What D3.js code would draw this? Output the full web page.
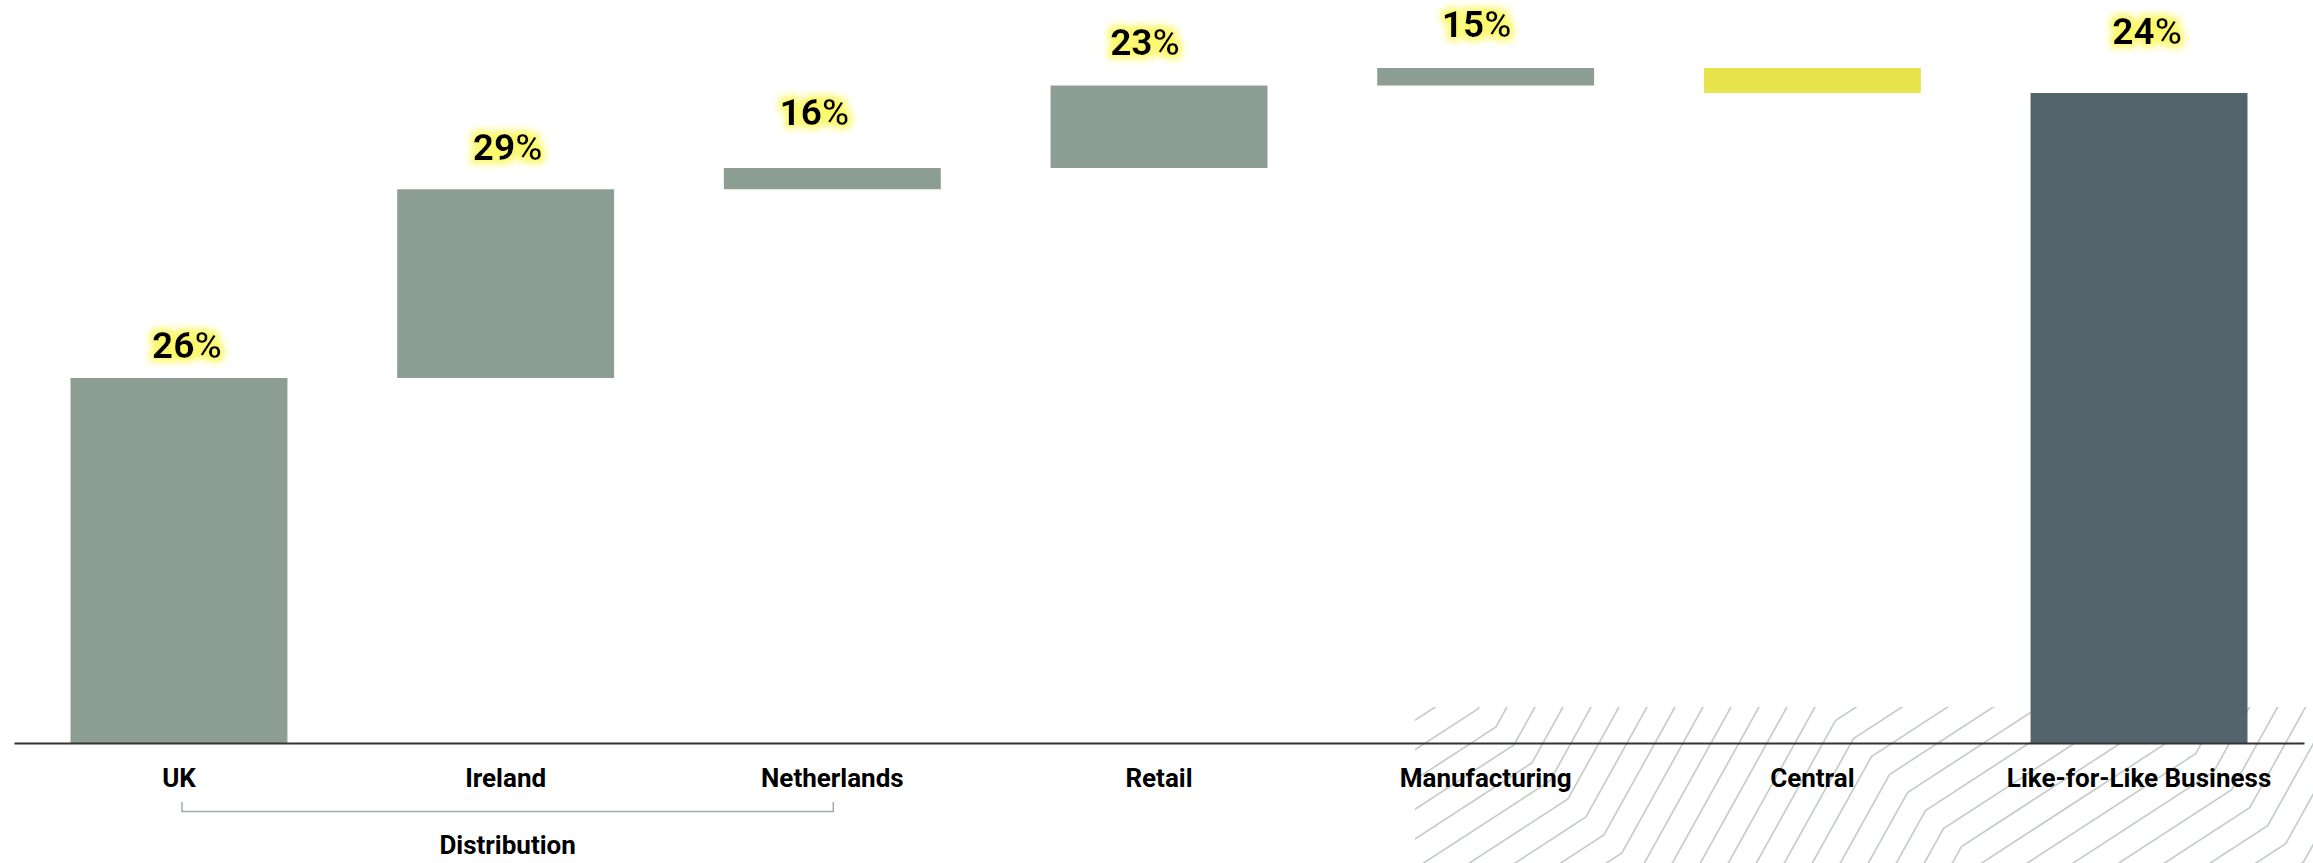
<!DOCTYPE html>
<html>
<head>
<meta charset="utf-8">
<script src="https://cdn.jsdelivr.net/npm/d3@7"></script>
<style>
  body { margin: 0; background: #fff; }
  svg { display: block; font-family: Roboto, "Noto Sans", sans-serif; }
</style>
</head>
<body>
<script>
// waterfall data (profit)
const categories = ["UK", "Ireland", "Netherlands", "Retail", "Manufacturing", "Central", "Like-for-Like Business"];
const contributions = [146, 75.5, 8.5, 33, 7, -10, 260];
const barKinds = ["step", "step", "step", "step", "step", "step", "total"];
const margins = [26, 29, 16, 23, 15, null, 24];
const groupLabel = "Distribution";
const groupMembers = ["UK", "Netherlands"];

const width = 2313, height = 863;
const baseY = 743, topY = 93;

// hand placed label nudges, the source deck has them a bit uneven
const labelLift = [20, 29, 43, 31, 31, 0, 49];
const labelShift = [8, 2, -18, -14, -9, 0, 8];

const colors = {up: "#8c9e93", down: "#e7e34b", total: "#52636c"};

let running = 0;
const bars = categories.map((name, i) => {
    const v = contributions[i];
    let y0, y1;
    if (barKinds[i] === "total") {
        y0 = 0; y1 = v; running = v;
    } else {
        y0 = running; y1 = running + v; running = y1;
    }
    return {name, i, y0, y1, v, kind: barKinds[i], margin: margins[i]};
});

const x = d3.scaleBand()
    .domain(categories)
    .range([14, 2304])
    .paddingInner(0.336)
    .paddingOuter(0.173);

const y = d3.scaleLinear()
    .domain([0, contributions[contributions.length - 1]])
    .range([baseY, topY]);

const svg = d3.select("body").append("svg")
    .attr("width", width)
    .attr("height", height);

const defs = svg.append("defs");

const glow = defs.append("filter")
    .attr("id", "glow")
    .attr("x", "-30%").attr("y", "-50%")
    .attr("width", "160%").attr("height", "200%");
glow.append("feMorphology").attr("in", "SourceAlpha").attr("operator", "dilate").attr("radius", 4).attr("result", "fat");
glow.append("feGaussianBlur").attr("in", "fat").attr("stdDeviation", 3.5).attr("result", "soft");
glow.append("feFlood").attr("flood-color", "#fbf86c");
glow.append("feComposite").attr("in2", "soft").attr("operator", "in").attr("result", "halo");
const merge = glow.append("feMerge");
merge.append("feMergeNode").attr("in", "halo");
merge.append("feMergeNode").attr("in", "SourceGraphic");

// decorative flow lines, bottom right
const hatch = {left: 1415, top: 707, shallow: 0.65, steep: 1.8, gap: 28};
const breaks = [769, 1115, 1442]; // zone edges along u = x - y

defs.append("clipPath").attr("id", "hatchClip")
    .append("rect")
    .attr("x", hatch.left).attr("y", hatch.top)
    .attr("width", width - hatch.left).attr("height", height - hatch.top);

const a1 = 1 / hatch.gap, b1 = a1 / hatch.steep;
const beta = (a1 + b1) / 2;
const k = 2 * beta / (1 + hatch.shallow);
const alphaSteep = (a1 - b1) / 2;
const alphaShallow = (hatch.shallow * k - k) / 2;
const zoneSlope = u => {
    if (u < breaks[0]) return alphaShallow;
    if (u < breaks[1]) return alphaSteep;
    if (u < breaks[2]) return alphaShallow;
    return alphaSteep;
};
const uMin = hatch.left - height - 20, uMax = width - hatch.top + 20;
const uStops = [uMin, ...breaks, uMax];
const G = u => {
    let g = 0, prev = uMin;
    for (const s of uStops.slice(1)) {
        const end = Math.min(u, s);
        if (end > prev) g += zoneSlope((prev + end) / 2) * (end - prev);
        prev = s;
        if (u <= s) break;
    }
    return g;
};
const psi = (px, py) => beta * (px + py) + G(px - py);
const corners = [[hatch.left, hatch.top], [width, hatch.top], [hatch.left, height], [width, height]].map(c => psi(...c));
const flowLines = d3.range(Math.floor(d3.min(corners)) - 1, Math.ceil(d3.max(corners)) + 1, 1).map(n =>
    uStops.map(u => {
        const v = (n + 0.35 - G(u)) / beta;
        return [(u + v) / 2, (v - u) / 2];
    })
);

svg.append("g")
    .attr("clip-path", "url(#hatchClip)")
    .attr("fill", "none")
    .attr("stroke", "#c6cdc7")
    .attr("stroke-width", 1.7)
    .selectAll("path")
    .data(flowLines)
    .join("path")
    .attr("d", d3.line());

// bars
svg.append("g")
    .selectAll("rect")
    .data(bars)
    .join("rect")
    .attr("x", d => x(d.name))
    .attr("width", x.bandwidth())
    .attr("y", d => y(Math.max(d.y0, d.y1)))
    .attr("height", d => Math.abs(y(d.y0) - y(d.y1)))
    .attr("fill", d => d.kind === "total" ? colors.total : (d.v < 0 ? colors.down : colors.up));

// axis
const axis = svg.append("g")
    .attr("transform", `translate(0,${baseY})`)
    .call(d3.axisBottom(x).tickSize(0).tickPadding(26));
axis.select(".domain").attr("stroke", "#333").attr("stroke-width", 2);
axis.selectAll("text")
    .attr("fill", "#000")
    .attr("font-family", "Roboto, sans-serif")
    .attr("font-size", 26)
    .attr("font-weight", 700);

// margin labels
const lbl = svg.append("g")
    .attr("font-size", 37)
    .attr("text-anchor", "middle")
    .attr("fill", "#000")
    .selectAll("text")
    .data(bars.filter(d => d.margin != null))
    .join("text")
    .attr("filter", "url(#glow)")
    .attr("x", d => x(d.name) + x.bandwidth() / 2 + labelShift[d.i])
    .attr("y", d => y(Math.max(d.y0, d.y1)) - labelLift[d.i]);
lbl.append("tspan").attr("font-weight", 700).text(d => d.margin);
lbl.append("tspan").attr("font-weight", 500).text("%");

// distribution bracket
const bx0 = x(groupMembers[0]) + x.bandwidth() / 2 + 3;
const bx1 = x(groupMembers[1]) + x.bandwidth() / 2 + 1;
svg.append("path")
    .attr("d", `M${bx0},802V811.5H${bx1}V802`)
    .attr("fill", "none")
    .attr("stroke", "#9cada4")
    .attr("stroke-width", 1.5);

svg.append("text")
    .attr("x", (bx0 + bx1) / 2)
    .attr("y", 854)
    .attr("text-anchor", "middle")
    .attr("font-size", 26)
    .attr("font-weight", 700)
    .text(groupLabel);
</script>
</body>
</html>
